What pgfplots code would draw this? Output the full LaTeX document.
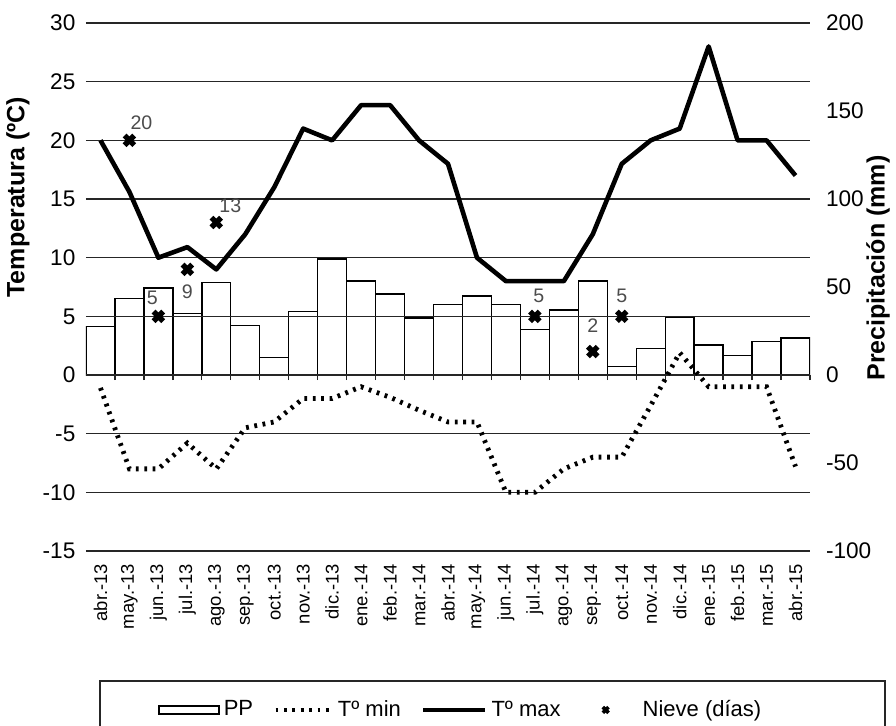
\documentclass[border=0pt]{standalone}
\usepackage{fontspec}
\setmainfont{Liberation Sans}
\usepackage{pgfplots}
\pgfplotsset{compat=1.18}

\begin{document}
\begin{tikzpicture}[font=\fontsize{11}{13}\selectfont]
\pgfplotsset{
  base/.style={
    scale only axis, width=362pt, height=264pt,
    xmin=-0.5, xmax=24.5,
    /pgf/number format/assume math mode=true,
    tick label style={font=\fontsize{11.3}{13}\selectfont},
  },
  leg line/.style={legend image code/.code={\draw[##1] (0pt,0pt) -- (#1,0pt);}},
  leg mark/.style={legend image code/.code={\path[draw=none] (0pt,0pt) -- (29pt,0pt);
    \path[draw=none] plot[only marks, mark=x, mark size=2pt, mark options={black, line width=1.8pt}] coordinates {(12.5pt,0pt)};}},
}
% precipitacion, eje derecho
\begin{axis}[base,
  ymin=-100, ymax=200, ytick={-100,-50,...,200},
  axis y line*=right, axis x line*=bottom,
  y axis line style={draw=none}, x axis line style={draw=none},
  major tick length=0pt, tick style={draw=none},
  xtick={0,...,24},
  xticklabels={abr.-13,may.-13,jun.-13,jul.-13,ago.-13,sep.-13,oct.-13,nov.-13,dic.-13,ene.-14,feb.-14,mar.-14,abr.-14,may.-14,jun.-14,jul.-14,ago.-14,sep.-14,oct.-14,nov.-14,dic.-14,ene.-15,feb.-15,mar.-15,abr.-15},
  xticklabel style={rotate=90, anchor=east, font=\fontsize{9.2}{10}\selectfont},
  xticklabel shift=3pt,
  yticklabel style={xshift=4.5pt},
  ylabel={Precipitación (mm)},
  every axis y label/.style={at={(axis description cs:1.094,0.536)}, rotate=90, anchor=center, font=\fontsize{12.5}{15}\selectfont\bfseries},
]
\addplot[ybar, bar width=1, draw=black, line width=0.7pt, fill=white] coordinates {
(0,27.5) (1,43.5) (2,49.5) (3,35) (4,52.5) (5,28) (6,10) (7,36) (8,66) (9,53.5)
(10,46) (11,32.5) (12,40) (13,45) (14,40) (15,26) (16,37) (17,53.5) (18,5) (19,15)
(20,33) (21,17) (22,11) (23,19) (24,21)};
\end{axis}
% temperatura, eje izquierdo
\begin{axis}[base,
  ymin=-15, ymax=30, ytick={-15,-10,...,30},
  axis x line*=middle, axis y line*=left,
  y axis line style={draw=none},
  x axis line style={black!85, line width=0.65pt},
  xtick={-0.5,0.5,...,24.5}, xticklabels={},
  xtick align=outside,
  major tick length=2.5pt,
  ytick style={draw=none},
  xtick style={black!85, line width=0.65pt},
  ymajorgrids, grid style={black!85, line width=0.65pt},
  yticklabel style={xshift=-1.8pt},
  ylabel={Temperatura (ºC)},
  every axis y label/.style={at={(axis description cs:-0.094,0.67)}, rotate=90, anchor=center, font=\fontsize{12.5}{15}\selectfont\bfseries},
  legend columns=4,
  legend style={draw=none, fill=none, inner sep=0pt, at={(0.0994,-0.301)}, anchor=west,
    font=\fontsize{11}{13}\selectfont,
    /tikz/every even column/.append style={column sep=8pt}},
]
\addlegendimage{legend image code/.code={\draw[black, line width=0.7pt, fill=white] (0pt,-2pt) rectangle (30pt,2pt);}}
\addlegendentry{PP}
\addplot[black, line width=2.4pt, dash pattern=on 1.4pt off 2.8pt, leg line=28pt] coordinates {
(0,-1.1) (1,-8) (2,-8) (3,-5.8) (4,-8) (5,-4.5) (6,-4) (7,-2) (8,-2) (9,-1)
(10,-1.9) (11,-3) (12,-4) (13,-4) (14,-10) (15,-10) (16,-8) (17,-7) (18,-7) (19,-2.6)
(20,1.9) (21,-1) (22,-1) (23,-1) (24,-7.8)};
\addlegendentry{Tº min}
\addplot[black, line width=2.3pt, line join=round, leg line=31pt] coordinates {
(0,20) (1,15.6) (2,10) (3,10.9) (4,9) (5,12) (6,16) (7,21) (8,20) (9,23)
(10,23) (11,20) (12,18) (13,10) (14,8) (15,8) (16,8) (17,12) (18,18) (19,20)
(20,21) (21,28) (22,20) (23,20) (24,17)};
\addlegendentry{Tº max}
\addplot[only marks, mark=x, mark size=3.4pt, mark options={black, line width=2.7pt}, leg mark] table {
x y
1 20
2 5
3 9
4 13
15 5
17 2
18 5
};
\addlegendentry{Nieve (días)}
\addplot[draw=none, forget plot, point meta=y, nodes near coords,
  visualization depends on={value \thisrow{dx}\as\dx},
  visualization depends on={value \thisrow{dy}\as\dy},
  every node near coord/.append style={anchor=center, xshift=\dx pt, yshift=\dy pt,
    text=black!70, font=\fontsize{9.8}{11}\selectfont}] table {
x y dx dy
1 20 6 9
2 5 -3 9.3
3 9 0 -11
4 13 7 8.5
15 5 2 10
17 2 0 13
18 5 0 10
};
\end{axis}
\draw[black!85, line width=0.7pt] (7pt,-64.9pt) rectangle (399.5pt,-120pt);
\pgfresetboundingbox
\useasboundingbox (-43pt,-87pt) rectangle (405pt,275.5pt);
\end{tikzpicture}
\end{document}
